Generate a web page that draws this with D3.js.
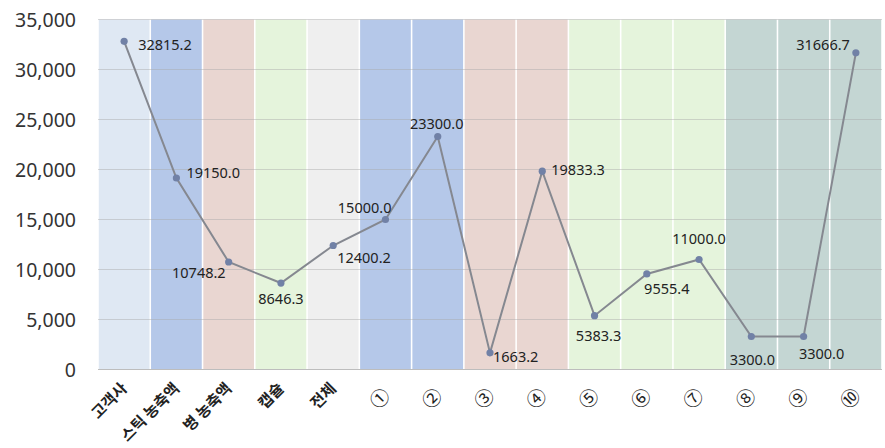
<!DOCTYPE html>
<html><head><meta charset="utf-8">
<script src="https://cdn.jsdelivr.net/npm/d3@7"></script>
<style>
html,body{margin:0;padding:0;background:#fff;}
svg{display:block;}
</style>
</head><body>
<svg id="chart" width="885" height="448"></svg>
<script>
const categories = ["고객사","스틱 농축액","병 농축액","캡슐","전체","①","②","③","④","⑤","⑥","⑦","⑧","⑨","⑩"];
const values = [32815.2,19150.0,10748.2,8646.3,12400.2,15000.0,23300.0,1663.2,19833.3,5383.3,9555.4,11000.0,3300.0,3300.0,31666.7];
const groups = ["g0","g1","g2","g3","g4","g1","g1","g2","g2","g3","g3","g3","g5","g5","g5"];
const yTicks = [0,5000,10000,15000,20000,25000,30000,35000];
const yMax = 35000;

const groupColor = d3.scaleOrdinal()
  .domain(["g0","g1","g2","g3","g4","g5"])
  .range(["#dfe8f3","#b5c8e9","#e9d6d1","#e5f4dc","#efefef","#c4d6d3"]);

// label placement: [dx, dy, anchor]
const labelPos = [
  [14,9,"start"],[10,0,"start"],[-3,16,"end"],[0,21,"middle"],[4,18,"start"],
  [6,-7,"end"],[-1,-8,"middle"],[3,9,"start"],[9,4,"start"],[4,25,"middle"],
  [20,20,"middle"],[0,-16,"middle"],[1,28,"middle"],[18,22,"middle"],[-6,-3,"end"]
];

const svg = d3.select("#chart");
const m = {left:98, right:3, top:19.5, bottom:78.5};
const W = 885, H = 448;
const x = d3.scaleBand().domain(categories).range([m.left, W - m.right]).paddingInner(0.03).paddingOuter(0.015);
const y = d3.scaleLinear().domain([0, yMax]).range([H - m.bottom, m.top]);

// background bars
svg.append("g").selectAll("rect").data(categories).join("rect")
  .attr("x", d => x(d))
  .attr("width", x.bandwidth())
  .attr("y", y(yMax))
  .attr("height", y(0) - y(yMax))
  .attr("fill", (d,i) => groupColor(groups[i]));

// gridlines
svg.append("g").selectAll("line").data(yTicks.filter(t => t > 0)).join("line")
  .attr("x1", m.left).attr("x2", W - m.right)
  .attr("y1", d => y(d)).attr("y2", d => y(d))
  .attr("stroke", "#a8a8a8").attr("stroke-opacity", 0.45).attr("stroke-width", 1);

// bottom axis line
svg.append("line")
  .attr("x1", m.left).attr("x2", W - m.right)
  .attr("y1", y(0)).attr("y2", y(0))
  .attr("stroke", "#bdbdbd").attr("stroke-width", 1.2);

// y axis labels
const yAxis = d3.axisLeft(y).tickValues(yTicks).tickSize(0).tickPadding(0).tickFormat(d3.format(","));
const ya = svg.append("g").attr("transform", "translate(76,0)").call(yAxis);
ya.select(".domain").remove();
ya.selectAll("text")
  .attr("font-family", "'Noto Sans', 'Noto Sans CJK KR', sans-serif")
  .attr("font-size", 19.5).attr("fill", "#333").attr("dy", "0.35em");

// x axis labels
const isCircled = s => /^[\u2460-\u2473]$/.test(s);
const xAxis = d3.axisBottom(x).tickSize(0).tickPadding(0);
const xa = svg.append("g").attr("transform", `translate(0,${y(0)})`).call(xAxis);
xa.select(".domain").remove();
xa.selectAll("text")
  .attr("font-family", "'Noto Sans CJK KR', sans-serif")
  .attr("font-size", d => isCircled(d) ? 19 : 15.5)
  .attr("font-weight", d => isCircled(d) ? "normal" : "bold")
  .attr("fill", "#222")
  .attr("text-anchor", "end")
  .attr("dy", 0).attr("y", 0)
  .attr("transform", d => isCircled(d) ? "translate(6,27) rotate(-45)" : "translate(4,20) rotate(-45)");

// line
const cx = (d,i) => x(categories[i]) + x.bandwidth()/2;
const line = d3.line().x((d,i) => cx(d,i)).y(d => y(d));
svg.append("path").datum(values)
  .attr("d", line).attr("fill", "none")
  .attr("stroke", "#858890").attr("stroke-width", 2);

svg.append("g").selectAll("circle").data(values).join("circle")
  .attr("cx", (d,i) => cx(d,i)).attr("cy", d => y(d)).attr("r", 3.6)
  .attr("fill", "#7181a6");

// data labels
svg.append("g").selectAll("text").data(values).join("text")
  .attr("x", (d,i) => cx(d,i) + labelPos[i][0])
  .attr("y", (d,i) => y(d) + labelPos[i][1])
  .attr("text-anchor", (d,i) => labelPos[i][2])
  .attr("font-family", "'Noto Sans', sans-serif")
  .attr("font-size", 14.5).attr("fill", "#222")
  .text(d => d.toFixed(1));
</script>
</body></html>
